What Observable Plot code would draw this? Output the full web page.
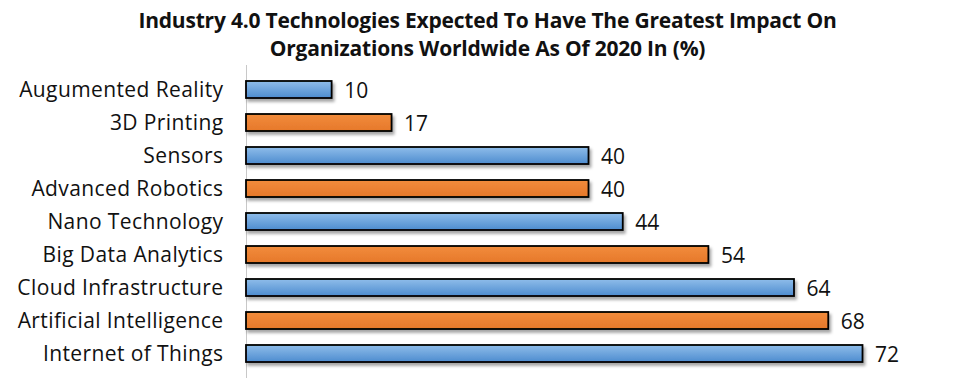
<!DOCTYPE html>
<html>
<head>
<meta charset="utf-8">
<script src="https://cdn.jsdelivr.net/npm/d3@7"></script>
<script src="https://cdn.jsdelivr.net/npm/@observablehq/plot@0.6"></script>
<style>
  body { margin: 0; background: #fff; }
  #wrap { width: 955px; height: 380px; overflow: hidden; }
  #title { height: 65px; box-sizing: border-box; padding-top: 6px; padding-left: 20px;
    font-family: "Open Sans", sans-serif; font-weight: 700; font-size: 21px; line-height: 28px;
    text-align: center; color: #111; letter-spacing: -0.2px; }
  #chart svg g[aria-label="y-axis tick label"] text { letter-spacing: 0.4px; }
</style>
</head>
<body>
<div id="wrap">
  <div id="title">Industry 4.0 Technologies Expected To Have The Greatest Impact On<br>Organizations Worldwide As Of 2020 In (%)</div>
  <div id="chart"></div>
</div>
<script>
const categories = ["Augumented Reality", "3D Printing", "Sensors", "Advanced Robotics", "Nano Technology", "Big Data Analytics", "Cloud Infrastructure", "Artificial Intelligence", "Internet of Things"];
const values = [10, 17, 40, 40, 44, 54, 64, 68, 72];
const series = ["blue", "orange", "blue", "orange", "blue", "orange", "blue", "orange", "blue"];

const data = categories.map((c, i) => ({category: c, value: values[i], series: series[i]}));

const plot = Plot.plot({
  width: 955,
  height: 315,
  marginLeft: 246,
  marginRight: 24,
  marginTop: 0,
  marginBottom: 2,
  style: {fontFamily: "Open Sans, sans-serif", color: "#111", background: "#fff"},
  x: {domain: [0, 80], axis: null},
  y: {domain: categories, padding: 0.48},
  marks: [
    Plot.ruleX([0], {stroke: "#c8c8c8", strokeWidth: 1}),
    Plot.barX(data.filter(d => d.series === "blue"), {x: "value", y: "category", fill: "url(#gBlue)", stroke: "#000", strokeWidth: 1.8}),
    Plot.barX(data.filter(d => d.series === "orange"), {x: "value", y: "category", fill: "url(#gOrange)", stroke: "#000", strokeWidth: 1.8}),
    Plot.text(data, {x: "value", y: "category", text: d => String(d.value), textAnchor: "start", dx: 12, dy: 1, fontSize: 21, fill: "#111"}),
    Plot.axisY({tickSize: 0, tickPadding: 23, fontSize: 21, label: null})
  ]
});

const svg = d3.select(plot);
const defs = svg.insert("defs", ":first-child");
const gb = defs.append("linearGradient").attr("id", "gBlue").attr("x1", 0).attr("y1", 0).attr("x2", 0).attr("y2", 1);
gb.append("stop").attr("offset", "0%").attr("stop-color", "#8fbdea");
gb.append("stop").attr("offset", "100%").attr("stop-color", "#4d8ccf");
const go = defs.append("linearGradient").attr("id", "gOrange").attr("x1", 0).attr("y1", 0).attr("x2", 0).attr("y2", 1);
go.append("stop").attr("offset", "0%").attr("stop-color", "#f28c3c");
go.append("stop").attr("offset", "100%").attr("stop-color", "#e6782a");
const f = defs.append("filter").attr("id", "shadow").attr("x", "-10%").attr("y", "-50%").attr("width", "130%").attr("height", "250%");
f.append("feDropShadow").attr("dx", 2).attr("dy", 3).attr("stdDeviation", 1.8).attr("flood-color", "#000").attr("flood-opacity", 0.35);
svg.selectAll("g[aria-label=bar]").attr("filter", "url(#shadow)");

document.getElementById("chart").appendChild(plot);
</script>
</body>
</html>
